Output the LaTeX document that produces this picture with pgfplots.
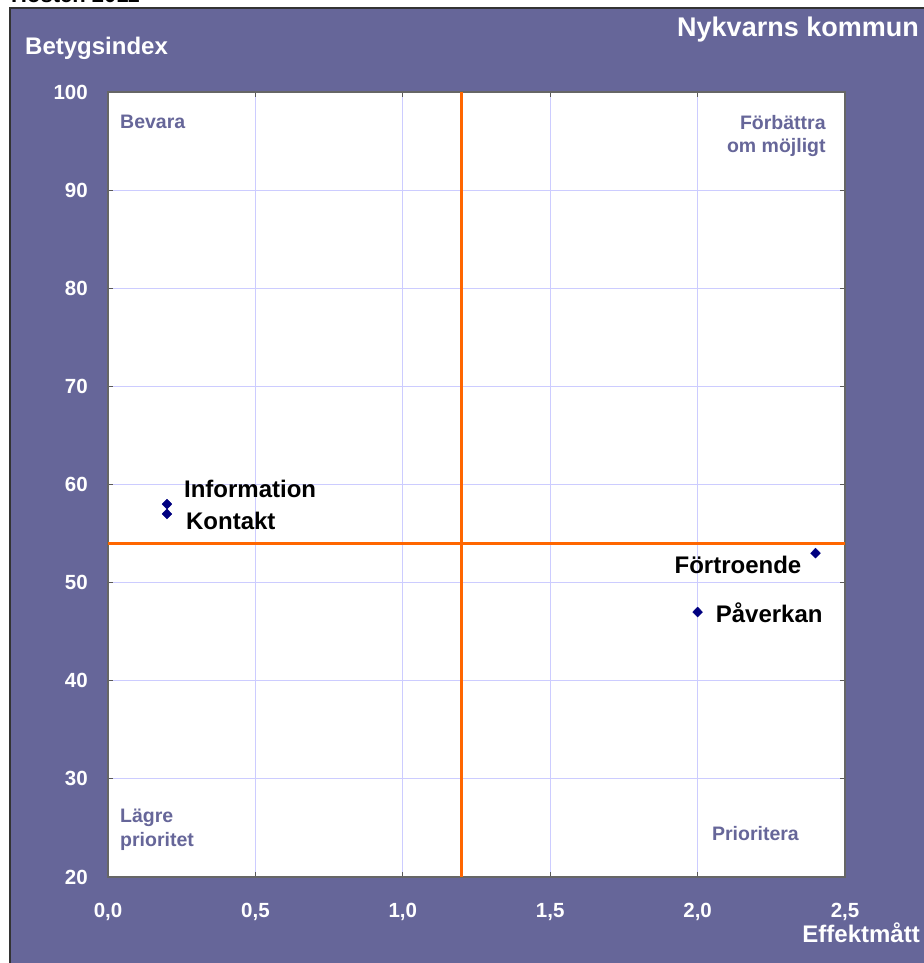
\documentclass[border=0pt]{standalone}
\usepackage{pgfplots}
\pgfplotsset{compat=1.18}
\usepackage{fontspec}
\setmainfont{Liberation Sans}

\definecolor{panel}{HTML}{666699}
\definecolor{gridc}{HTML}{CCCCFF}
\definecolor{quad}{HTML}{666699}
\definecolor{orangeline}{HTML}{FF6600}
\definecolor{pt}{HTML}{000080}

\newcommand{\fs}[1]{\fontsize{#1}{#1}\selectfont\bfseries}

\tikzset{pts/.style={only marks, mark=diamond*, mark size=5pt, mark options={xscale=1.3}, pt}}

\begin{document}
\begin{tikzpicture}[x=1pt,y=1pt]
\useasboundingbox (0,0) rectangle (923,963);
\fill[white] (0,0) rectangle (923,963);
\filldraw[fill=panel, draw=gray!40!black, line width=1.5pt] (10,-10) rectangle (940,955);
\node[anchor=base west, inner sep=0, font=\fs{22}] at (11,960) {Hösten 2011};

\begin{axis}[
  at={(108pt,86pt)}, anchor=south west,
  width=737pt, height=785pt, scale only axis,
  xmin=0, xmax=2.5, ymin=20, ymax=100,
  xtick={0,0.5,1,1.5,2,2.5},
  ytick={20,30,40,50,60,70,80,90,100},
  grid=major,
  major grid style={draw=gridc, line width=0.8pt},
  axis background/.style={fill=white},
  axis line style={draw=gray!80!black, line width=2pt},
  tick align=inside,
  major tick length=5pt,
  tick style={draw=gray!70!black, line width=0.8pt},
  /pgf/number format/assume math mode=true,
  xticklabel style={font=\fs{20.5}, text=white, inner sep=0pt, yshift=-26pt,
    /pgf/number format/.cd, fixed, fixed zerofill, precision=1, use comma},
  yticklabel style={font=\fs{20.5}, text=white, inner sep=0pt, xshift=-20pt},
  clip=false,
]
% quadrant dividers
\addplot[orangeline, line width=3pt] coordinates {(1.2,20) (1.2,100)};
\addplot[orangeline, line width=3pt] coordinates {(0,54) (2.5,54)};

% data points
\addplot[pts] coordinates {(0.2,58)}
  node[anchor=west, inner sep=0, xshift=17pt, yshift=15pt, font=\fs{24}, text=black] {Information};
\addplot[pts] coordinates {(0.2,57)}
  node[anchor=west, inner sep=0, xshift=19pt, yshift=-7pt, font=\fs{24}, text=black] {Kontakt};
\addplot[pts] coordinates {(2.4,53)}
  node[anchor=east, inner sep=0, xshift=-14pt, yshift=-12pt, font=\fs{24}, text=black] {Förtroende};
\addplot[pts] coordinates {(2.0,47)}
  node[anchor=west, inner sep=0, xshift=18pt, yshift=-1pt, font=\fs{24}, text=black] {Påverkan};

% quadrant names
\node[anchor=west, inner sep=0, font=\fs{19.5}, text=quad] at (rel axis cs:0.0163,0.9618) {Bevara};
\node[anchor=east, align=right, inner sep=0, font=\fontsize{19.5}{23}\selectfont\bfseries, text=quad]
  at (rel axis cs:0.974,0.944) {Förbättra\\om möjligt};
\node[anchor=west, align=left, inner sep=0, font=\fontsize{19.5}{24}\selectfont\bfseries, text=quad]
  at (rel axis cs:0.0163,0.0599) {Lägre\\prioritet};
\node[anchor=east, inner sep=0, font=\fs{19.5}, text=quad] at (rel axis cs:0.9376,0.056) {Prioritera};
\end{axis}

\node[anchor=east, inner sep=0, font=\fs{27}, text=white] at (919,933) {Nykvarns kommun};
\node[anchor=west, inner sep=0, font=\fs{24}, text=white] at (25,915) {Betygsindex};
\node[anchor=east, inner sep=0, font=\fs{24}, text=white] at (920,30) {Effektmått};
\end{tikzpicture}
\end{document}
